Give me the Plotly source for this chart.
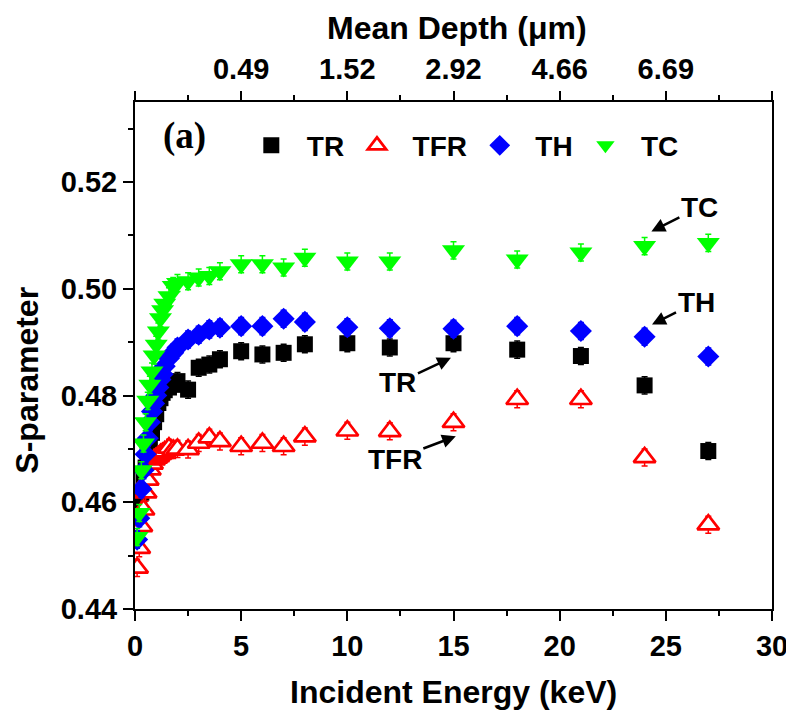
import plotly.graph_objects as go

# ---------------- data ----------------
energy = [0.1, 0.2, 0.3, 0.4, 0.5, 0.6, 0.7, 0.8, 0.9, 1.0, 1.1, 1.2, 1.3, 1.4, 1.6, 1.8,
          2.0, 2.5, 3.0, 3.5, 4.0, 5, 6, 7, 8, 10, 12, 15, 18, 21, 24, 27]

s_TR = [0.4570, 0.4600, 0.4618, 0.4649, 0.4665, 0.4690, 0.4711, 0.4730, 0.4750, 0.4765, 0.4786,
        0.4795, 0.4805, 0.4810, 0.4815, 0.4820, 0.4827, 0.4811, 0.4852, 0.4858, 0.4868,
        0.4883, 0.4877, 0.4880, 0.4896, 0.4898, 0.4890, 0.4898, 0.4886, 0.4874, 0.4819, 0.4696]

s_TFR = [0.4477, 0.4514, 0.4555, 0.4586, 0.4618, 0.4642, 0.4661, 0.4672, 0.4680, 0.4683, 0.4686,
         0.4690, 0.4692, 0.4695, 0.4702, 0.4698, 0.4700, 0.4699, 0.4711, 0.4721, 0.4714,
         0.4705, 0.4711, 0.4705, 0.4723, 0.4734, 0.4733, 0.4750, 0.4793, 0.4793, 0.4684, 0.4558]

s_TH = [0.4530, 0.4570, 0.4625, 0.4660, 0.4690, 0.4720, 0.4750, 0.4770, 0.4785, 0.4800, 0.4815,
        0.4830, 0.4840, 0.4855, 0.4870, 0.4880, 0.4890, 0.4905, 0.4914, 0.4924, 0.4927,
        0.4930, 0.4930, 0.4944, 0.4938, 0.4928, 0.4926, 0.4925, 0.4930, 0.4921, 0.4910, 0.4873]

s_TC = [0.4535, 0.4580, 0.4660, 0.4710, 0.4750, 0.4790, 0.4820, 0.4845, 0.4875, 0.4895, 0.4920,
        0.4945, 0.4960, 0.4972, 0.4986, 0.5005, 0.5011, 0.5014, 0.5021, 0.5024, 0.5033,
        0.5046, 0.5046, 0.5040, 0.5058, 0.5051, 0.5051, 0.5072, 0.5055, 0.5068, 0.5080, 0.5086]

s_err = 0.0016

depth_tick_energy = [0, 5, 10, 15, 20, 25, 30]
depth_tick_text = ["", "0.49", "1.52", "2.92", "4.66", "6.69", ""]

y_ticks = [0.44, 0.46, 0.48, 0.50, 0.52]

# ---------------- figure ----------------
FONT = "Liberation Sans, Arial, sans-serif"
NB = "\u00a0"

fig = go.Figure()

def add_series(name, y, symbol, color, fill, size, lw=0):
    fig.add_trace(go.Scatter(
        x=energy, y=y, mode="markers", name=NB * 2 + name + NB,
        marker=dict(symbol=symbol, size=size, color=fill,
                    line=dict(color=color, width=lw)),
        error_y=dict(type="constant", value=s_err, color=color, thickness=1.5, width=3),
    ))

add_series("TR", s_TR, "square", "black", "black", 16)
add_series("TFR", s_TFR, "triangle-up", "#ff0000", "white", 19, lw=2.7)
add_series("TH", s_TH, "diamond", "#0000ff", "#0000ff", 17)
add_series("TC", s_TC, "triangle-down", "#00ff00", "#00ff00", 20)

axis_common = dict(showline=True, linewidth=2, linecolor="black", ticks="outside",
                   tickwidth=2, tickcolor="black", showgrid=False, zeroline=False,
                   automargin=False,
                   tickfont=dict(family=FONT, size=29, color="black", weight="bold"))

# page body has an 8px margin, so the figure is shrunk by that much
fig.update_layout(
    width=786, height=709,
    margin=dict(l=127, r=22, t=94, b=108),
    plot_bgcolor="white", paper_bgcolor="white",
    xaxis=dict(range=[0, 30], dtick=5, ticklen=10,
               minor=dict(ticks="outside", dtick=2.5, ticklen=5, tickwidth=2, tickcolor="black"),
               **axis_common),
    xaxis2=dict(range=[0, 30], overlaying="x", side="top", anchor="y",
                tickmode="array", tickvals=depth_tick_energy, ticktext=depth_tick_text, ticklen=9,
                minor=dict(ticks="outside", tickvals=[2.5, 7.5, 12.5, 17.5, 22.5, 27.5],
                           ticklen=5, tickwidth=2, tickcolor="black"),
                **axis_common),
    yaxis=dict(range=[0.44, 0.535], tickmode="array", tickvals=y_ticks, tickformat=".2f",
               ticklen=10, mirror=True,
               minor=dict(ticks="outside", dtick=0.01, ticklen=5, tickwidth=2, tickcolor="black"),
               **axis_common),
    showlegend=True,
    legend=dict(orientation="h", x=0.1826, y=0.914, xanchor="left", yanchor="middle",
                bgcolor="rgba(0,0,0,0)",
                font=dict(family=FONT, size=28, color="black", weight="bold")),
)

# empty trace binding the top (mean depth) axis
fig.add_trace(go.Scatter(x=[], y=[], xaxis="x2", yaxis="y", showlegend=False, hoverinfo="skip"))

ann_font = dict(family=FONT, size=28, color="black", weight="bold")
title_font = dict(family=FONT, size=32, color="black", weight="bold")
annotations = [
    dict(text="Incident Energy (keV)", x=0.5, y=-0.163, xref="paper", yref="paper",
         xanchor="center", yanchor="middle", showarrow=False, font=title_font),
    dict(text="Mean Depth (\u03bcm)", x=0.506, y=1.1466, xref="paper", yref="paper",
         xanchor="center", yanchor="middle", showarrow=False, font=title_font),
    dict(text="S-parameter", x=-0.1696, y=0.4523, xref="paper", yref="paper", textangle=-90,
         xanchor="center", yanchor="middle", showarrow=False, font=title_font),
    dict(text="(a)", x=0.078, y=0.932, xref="paper", yref="paper",
         xanchor="center", yanchor="middle", showarrow=False,
         font=dict(family="Liberation Serif, Times New Roman, serif", size=37, color="black",
                   weight="bold")),
]
arrows = [
    ("TR", 14.88, 0.48707, -53, 25),
    ("TFR", 15.11, 0.47237, -61, 23),
    ("TH", 24.35, 0.49331, 44, -22),
    ("TC", 24.32, 0.51075, 48, -24),
]
for txt, hx, hy, ax, ay in arrows:
    annotations.append(dict(text=txt, x=hx, y=hy, xref="x", yref="y", ax=ax, ay=ay,
                            showarrow=True, arrowhead=2, arrowsize=1.1, arrowwidth=2.5,
                            arrowcolor="black", standoff=0, font=ann_font))
fig.update_layout(annotations=annotations)

fig.write_html("out.html")
